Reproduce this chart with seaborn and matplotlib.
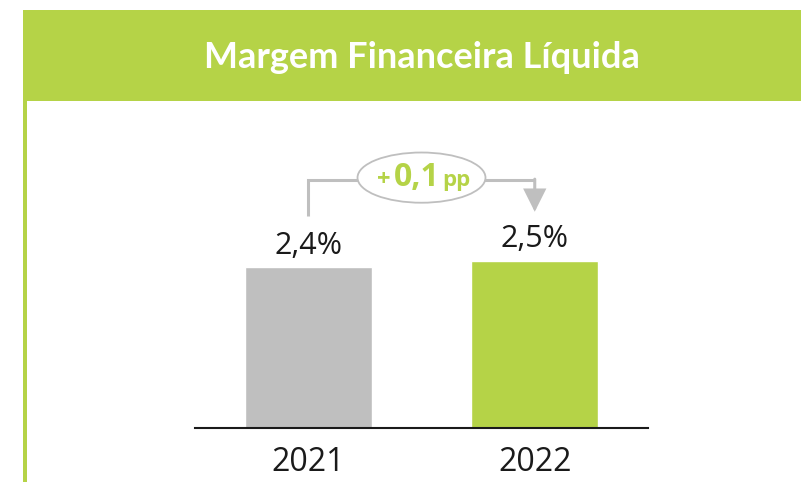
import matplotlib
matplotlib.use("Agg")
import matplotlib.pyplot as plt
import seaborn as sns
from matplotlib.patches import Rectangle, Ellipse
from matplotlib.offsetbox import TextArea, HPacker, AnnotationBbox

# ---- data ----
years = ["2021", "2022"]
values = [2.4, 2.5]
value_labels = ["2,4%", "2,5%"]
title = "Margem Financeira Líquida"
delta_parts = ["+", "0,1", "pp"]

GREEN = "#b5d347"
GRAY = "#bfbfbf"
TXT = "#1a1a1a"

sns.set_theme(style="white")
plt.rcParams["font.family"] = ["Open Sans", "DejaVu Sans"]

W, H = 801, 482
fig = plt.figure(figsize=(W / 100, H / 100), dpi=100)
fig.patch.set_facecolor("white")

def fx(px):
    return px / W

def fy(py):
    return (H - py) / H

# header band and left rule
fig.patches.append(Rectangle((fx(23), fy(101)), fx(801 - 23), (101 - 10) / H,
                             transform=fig.transFigure, facecolor=GREEN,
                             edgecolor="none", zorder=0))
fig.patches.append(Rectangle((fx(23), 0), fx(4), fy(101),
                             transform=fig.transFigure, facecolor=GREEN,
                             edgecolor="none", zorder=0))
fig.text(fx(422), fy(68), title, ha="center", va="baseline", color="white",
         fontsize=26, fontweight="bold", family=["Lato", "DejaVu Sans"])

# axes
ax_left, ax_right, ax_bottom, ax_top = 195, 648, 428, 110
ax = fig.add_axes([fx(ax_left), fy(ax_bottom), fx(ax_right - ax_left),
                   (ax_bottom - ax_top) / H])
ax.set_facecolor("none")

sns.barplot(x=years, y=values, hue=years, palette=[GRAY, GREEN], legend=False,
            width=0.56, saturation=1, ax=ax)

ax.set_xlim(-0.5, 1.5)
ax.set_ylim(0, 4.75)
for s in ["left", "top", "right"]:
    ax.spines[s].set_visible(False)
ax.spines["bottom"].set_color(TXT)
ax.spines["bottom"].set_linewidth(1.5)
ax.set_yticks([])
ax.set_ylabel("")
ax.set_xlabel("")
ax.tick_params(axis="x", length=0, pad=13, labelsize=23, labelcolor=TXT)

# value labels
for i, (v, lab) in enumerate(zip(values, value_labels)):
    ax.text(i, v + 0.2, lab, ha="center", va="baseline", fontsize=22, color=TXT)

# bracket connector
y_br = 3.70
ax.plot([0, 0, 1], [3.17, y_br, y_br], color=GRAY, lw=2.2,
        solid_joinstyle="miter", solid_capstyle="butt", zorder=3)
ax.annotate("", xy=(1, 3.23), xytext=(1, y_br + 0.017),
            arrowprops=dict(arrowstyle="-|>,head_length=1.1,head_width=0.55",
                            color=GRAY, lw=2.2, shrinkA=0, shrinkB=0,
                            joinstyle="miter"),
            zorder=3)
ax.add_patch(Ellipse((0.5, 3.74), 0.565, 0.75, facecolor="white",
                     edgecolor=GRAY, lw=1.3, zorder=4))

t1 = TextArea(delta_parts[0], textprops=dict(color=GREEN, fontsize=17, fontweight="bold"))
t2 = TextArea(delta_parts[1], textprops=dict(color=GREEN, fontsize=23, fontweight="bold"))
t3 = TextArea(delta_parts[2], textprops=dict(color=GREEN, fontsize=16, fontweight="bold"))
box = HPacker(children=[t1, t2, t3], align="baseline", pad=0, sep=2)
ab = AnnotationBbox(box, (0.51, 3.74), xycoords="data", frameon=False,
                    box_alignment=(0.5, 0.5), zorder=5)
ax.add_artist(ab)

fig.savefig("out.png", dpi=100, facecolor="white")
